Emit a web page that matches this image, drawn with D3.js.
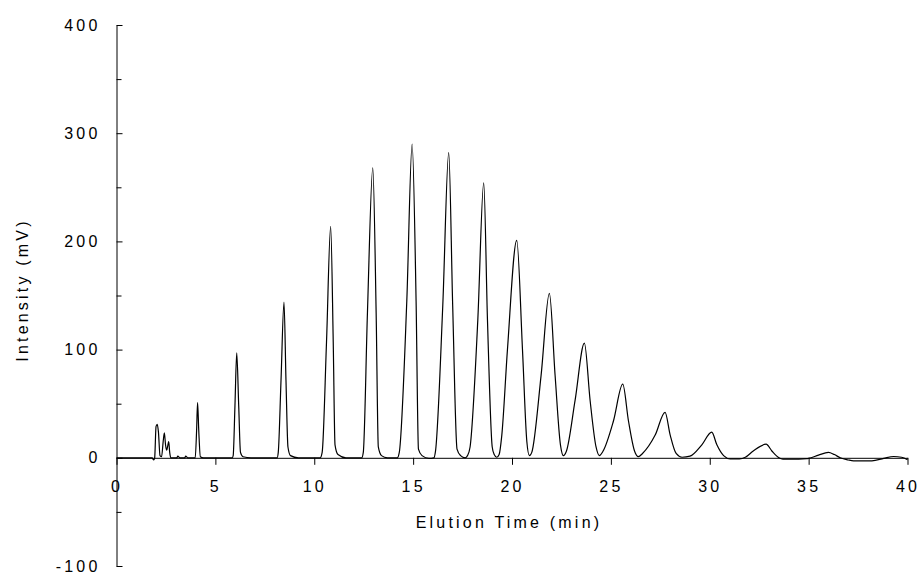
<!DOCTYPE html>
<html>
<head>
<meta charset="utf-8">
<script src="https://cdn.jsdelivr.net/npm/d3@7"></script>
<style>
  body { margin: 0; background: #fff; }
  svg text { font-family: "Liberation Sans", Arial, sans-serif; fill: #000; }
</style>
</head>
<body>
<svg width="920" height="575"></svg>
<script>
// trace: elution time (min) and intensity (mV)
var elutionTime = [
  0, 1.8, 1.88, 1.93, 2.0, 2.06, 2.12, 2.2, 2.28, 2.36, 2.42, 2.48, 2.54, 2.6, 2.64, 2.69, 2.75,
  3.05, 3.1, 3.2, 3.45, 3.5, 3.6, 3.98, 4.05, 4.1, 4.16, 4.24, 4.4,
  5.85, 5.9, 5.99, 6.08, 6.18, 6.27, 6.4, 6.8,
  8.12, 8.18, 8.32, 8.47, 8.57, 8.67, 8.8, 9.2,
  10.3, 10.4, 10.62, 10.83, 10.96, 11.05, 11.2, 11.6,
  12.4, 12.48, 12.69, 12.96, 13.13, 13.24, 13.4, 13.7,
  14.2, 14.3, 14.68, 14.95, 15.15, 15.27, 15.45, 15.8,
  16.05, 16.13, 16.5, 16.8, 17.0, 17.22, 17.4, 17.63,
  17.75, 17.88, 18.27, 18.57, 18.76, 19.0, 19.1, 19.23,
  19.35, 19.48, 19.77, 20.24, 20.53, 20.75, 20.88,
  21.0, 21.47, 21.89, 22.18, 22.45, 22.6,
  22.75, 23.19, 23.66, 23.95, 24.25, 24.42,
  24.6, 25.13, 25.6, 25.89, 26.2, 26.39,
  26.6, 27.24, 27.74, 28.0, 28.3, 28.6,
  29.0, 29.6, 30.1, 30.36, 30.7, 31.03, 31.5,
  31.8, 32.2, 32.85, 33.14, 33.5, 33.7, 34.5, 34.9,
  35.0, 35.5, 36.0, 36.3, 36.6, 37.0, 37.27, 38.2,
  38.8, 39.3, 39.7, 40.0
];
var intensity = [
  0, 0, -2, 0, 29, 31, 24, 2, 1, 15, 23, 12, 7, 12, 15, 5, 0,
  0, 1.5, 0, 0, 1.5, 0, 0, 25, 51, 25, 1, 0,
  0, 2, 48, 97, 48, 5, 1, 0,
  0, 5, 72, 144, 72, 10, 2, 0,
  0, 5, 107, 214, 107, 12, 3, 0,
  0, 5, 134, 268, 134, 10, 2, 0,
  0, 5, 145, 290, 145, 8, 2, -0.5,
  0, 6, 141, 282, 141, 8, 2, 0,
  2, 10, 127, 254, 127, 10, 3, 0.5,
  3, 20, 100, 201, 100, 15, 2,
  5, 76, 152, 76, 12, 2,
  6, 53, 106, 53, 10, 2,
  6, 34, 68, 34, 6, 1,
  4, 21, 42, 21, 4, 0.5,
  1.5, 12, 23.7, 12, 2, -1, -1,
  0.5, 6.3, 12.6, 6.3, 0, -1.2, -1.2, -0.8,
  -0.5, 2.5, 5, 3, 0, -2, -2.8, -2.8,
  -0.5, 1.2, 0.5, -1.7
];

var xTicks = [0, 5, 10, 15, 20, 25, 30, 35, 40];
var yTicks = [-100, 0, 100, 200, 300, 400];
var yMinorTicks = [-50, 50, 150, 250, 350];

var svg = d3.select("svg");
var ls = 3.2; // the original export spreads its letters

var x = d3.scaleLinear().domain([0, 40]).range([116.5, 907.5]);
var y = d3.scaleLinear().domain([-100, 400]).range([566, 25]);

var data = elutionTime.map(function(t, i) { return {t: t, v: intensity[i]}; });

// plain hyphen for negatives, like the original
var fmt = function(d) { return String(d); };

// y axis, ticks pointing inward
svg.append("g")
    .attr("transform", "translate(" + x(0) + ",0)")
    .call(d3.axisLeft(y).tickValues(yTicks).tickFormat(fmt).tickSize(-6).tickSizeOuter(0).tickPadding(16));

svg.append("g")
    .attr("transform", "translate(" + x(0) + ",0)")
    .call(d3.axisLeft(y).tickValues(yMinorTicks).tickSize(-5).tickFormat(""))
    .select(".domain").remove();

// x axis along the zero line
svg.append("g")
    .attr("transform", "translate(0," + y(0) + ")")
    .call(d3.axisBottom(x).tickValues(xTicks).tickFormat(fmt).tickSize(7).tickSizeOuter(0).tickPadding(16));

svg.selectAll(".tick text")
    .style("font-size", "16px")
    .style("letter-spacing", ls + "px");
svg.selectAll(".domain, .tick line").attr("stroke", "#000");

svg.append("path")
    .datum(data)
    .attr("fill", "none")
    .attr("stroke", "#000")
    .attr("stroke-width", 1.2)
    .attr("d", d3.line()
        .curve(d3.curveMonotoneX)
        .x(function(d) { return x(d.t); })
        .y(function(d) { return y(d.v); }));

svg.append("text")
    .attr("x", 509)
    .attr("y", 528)
    .attr("text-anchor", "middle")
    .style("font-size", "16px")
    .style("letter-spacing", ls + "px")
    .text("Elution Time (min)");

svg.append("text")
    .attr("transform", "translate(28,290) rotate(-90)")
    .attr("text-anchor", "middle")
    .style("font-size", "16px")
    .style("letter-spacing", ls + "px")
    .text("Intensity (mV)");
</script>
</body>
</html>
